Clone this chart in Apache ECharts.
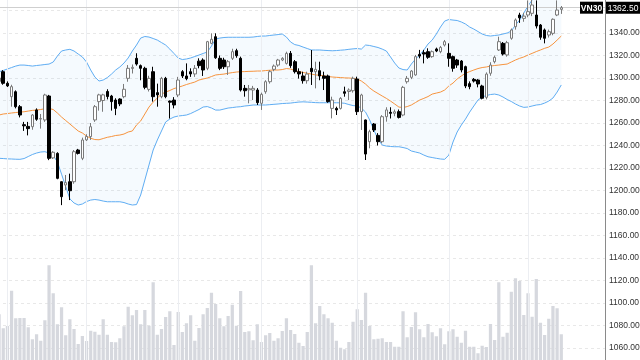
<!DOCTYPE html>
<html><head><meta charset="utf-8">
<script src="https://cdn.jsdelivr.net/npm/echarts@6/dist/echarts.min.js"></script>
<style>html,body{margin:0;padding:0;background:#fff}#c{width:640px;height:360px}</style>
</head><body><div id="c"></div>
<script>
// ---- data ----
const symbolName = 'VN30';
const lastPrice = 1362.50;
// [open, close, low, high]
const ohlc = [
[1297,1300,1293,1302],[1305.6,1295.3,1294,1307],[1295.3,1293,1292,1297],[1283.4,1292.3,1274.5,1294],[1287.8,1274.5,1273,1289],
[1274.5,1267.1,1265,1276],[1258.5,1257.5,1253,1261],[1257,1255,1249,1261],[1256.7,1267.1,1254,1268],[1271.6,1263.3,1262,1273],
[1263.5,1264,1255,1268],[1262.7,1284.9,1261,1286],[1284,1228.6,1227,1285],[1229,1234,1228,1235],[1233,1210.8,1210,1234],
[1207.8,1194.5,1187,1208],[1204.9,1207,1200.4,1213.8],[1207.8,1199.8,1191.5,1215],[1207.8,1234.5,1206,1236],[1236,1233,1232,1237],
[1228.6,1244.9,1227,1247],[1245,1248,1244,1250],[1247.9,1256.7,1245,1260],[1262.7,1274.5,1261,1276],[1279,1285,1271,1286],
[1280,1285,1270,1286],[1288,1283.5,1281,1290],[1284,1279,1271,1285],[1280.4,1273,1267,1282],[1281.3,1277,1275,1282],
[1283.4,1290,1282,1294.7],[1299.7,1308.6,1296.7,1311.5],[1308.5,1309.5,1304,1312],[1317.5,1312.4,1311,1322],[1311,1308.6,1298,1312],
[1308.6,1291.7,1290,1310],[1289.9,1299.7,1288,1302],[1305.6,1283.4,1279,1310],[1287,1285,1274.5,1295],[1283.4,1299.7,1282,1301],
[1299.7,1283.4,1282,1301],[1279.5,1278.5,1264,1280],[1280.4,1276,1273,1283],[1284.9,1298.2,1283,1301],[1305.6,1301.8,1300,1307],
[1301.8,1299.4,1298,1313],[1305.6,1303.6,1301,1308.6],[1303.6,1308.6,1301,1311.5],[1315,1311,1308.6,1317.5],[1316,1307.1,1301.8,1317.5],
[1308.6,1332.3,1307,1333],[1330.8,1334.4,1330,1339.7],[1336.7,1318,1317,1339.7],[1317.5,1308.6,1307,1320],[1316,1310,1308,1318],
[1310,1314.5,1302.7,1316],[1317.5,1323.4,1316,1326],[1324.3,1319.8,1318,1326],[1317.5,1289.3,1288,1319],[1290.8,1288.7,1283.4,1293.8],
[1289.5,1290.5,1277.5,1293.8],[1289.3,1290.8,1280.4,1293],[1289.3,1278.1,1276,1291],[1277.5,1285.5,1271.6,1287],[1287.8,1296.7,1286,1298],
[1296.7,1305.6,1295,1307],[1307.7,1310.6,1306,1312],[1311.5,1316,1310,1317],[1316,1317.5,1315,1318.5],[1313,1321.9,1312,1323.4],
[1321.9,1311,1309,1324],[1314.5,1305.6,1304,1316],[1305.6,1303.6,1299.5,1308.6],[1301.8,1297.6,1295,1305.6],[1297.6,1303.5,1295,1305.6],
[1308.6,1305.6,1293.8,1324.9],[1305.6,1307.7,1290.8,1314.5],[1306.5,1301.8,1298,1314.5],[1301.8,1299.7,1289.3,1305.6],[1301.8,1279,1278,1303],
[1273,1280.4,1264.1,1283.4],[1273,1271.6,1267.1,1274.5],[1273,1281.9,1272,1283],[1287.8,1286.4,1283.4,1292.3],[1288,1289.3,1280.4,1290.8],
[1288.7,1299.7,1287,1301.2],[1299.1,1270.1,1267.1,1301.2],[1270.1,1284.9,1253.8,1286],[1262.7,1232.4,1227.1,1263],[1243.4,1252.3,1237.5,1254],
[1259.1,1253.8,1252,1260],[1249,1243.4,1240,1251],[1243.4,1265.6,1242,1267],[1265.6,1271.6,1261.2,1274],[1269.5,1268.6,1264,1274],
[1268.6,1270,1266,1272],[1270.1,1265,1264,1272],[1267.1,1291.7,1266,1293],[1296.7,1299.7,1295,1301.8],[1300.6,1306.2,1299,1307],
[1302.7,1319,1302,1320.5],[1321,1319.5,1317.5,1325],[1322.5,1321.3,1313,1325],[1323.4,1318.4,1317,1326.4],[1319,1323.4,1318,1324.5],
[1325.8,1324,1323,1327],[1323.4,1327.2,1322,1328.5],[1329.3,1332.3,1328,1333.8],[1321.9,1317.5,1310,1330.8],[1319,1308.6,1305.6,1320],
[1316,1311.5,1309,1317],[1315.1,1307.1,1305,1316],[1310.1,1292.9,1291,1311],[1295,1292.3,1290,1297],[1298.8,1297.3,1296,1300],
[1298.2,1294.7,1291.7,1299],[1292.9,1282,1281,1294],[1282.8,1303.5,1281,1305],[1304.2,1311.5,1302,1314],[1314.5,1318.4,1313,1320],
[1324.9,1332.3,1324,1336.7],[1330.8,1321.3,1320,1332],[1320.5,1331.4,1319,1333],[1335.3,1342.7,1334,1344],[1345.6,1351.6,1343,1353],
[1356,1353.5,1349,1358],[1353,1355,1350,1358],[1356,1359,1354,1369],[1357.5,1364.9,1355,1370],[1356,1346.2,1344,1369],
[1347.1,1336.2,1334,1348],[1342.7,1335.3,1330.8,1344],[1338.2,1341.2,1336,1343],[1339.7,1352.2,1338,1353],[1356,1360.4,1355,1369],
[1361,1362.5,1357,1364]
];
const volume = [
183,127,136,277,167,168,168,131,83,103,
77,159,379,267,143,211,99,163,124,64,
96,76,117,113,101,163,101,72,71,87,
135,213,179,200,143,200,137,311,101,124,
172,195,60,192,112,147,179,77,128,183,
208,269,224,167,135,176,221,137,276,112,
115,79,143,72,99,108,77,87,116,167,
120,104,69,56,112,379,147,216,183,167,
149,77,49,43,72,153,203,160,269,136,
83,85,87,72,72,53,53,195,91,132,
191,123,91,144,111,95,127,63,115,123,
93,69,117,53,53,27,57,52,144,80,
311,93,109,273,327,316,180,267,173,324,
149,100,165,216,207,103
];
const bbUpper = [
1305.6,1306.7,1308.0,1309.3,1310.6,1311.5,1311.5,1311.1,1310.6,1311.1,
1311.5,1312.0,1312.4,1314.2,1319.5,1324.0,1324.9,1325.5,1324.0,1321.3,
1318.7,1314.2,1307.1,1300.9,1297.3,1298.2,1300.4,1303.5,1307.1,1309.8,
1313.3,1317.8,1324.0,1329.3,1335.5,1336.9,1336.4,1335.1,1333.7,1331.5,
1329.3,1325.7,1321.8,1317.8,1316.4,1316.9,1317.8,1319.1,1320.4,1321.8,
1323.1,1328.4,1334.6,1335.5,1336.0,1336.2,1336.2,1336.2,1336.2,1336.2,
1336.2,1336.4,1336.9,1337.3,1337.3,1337.8,1338.2,1338.6,1339.1,1336.4,
1332.0,1329.7,1328.9,1327.5,1326.2,1324.9,1324.9,1324.9,1324.6,1324.4,
1324.2,1324.4,1324.7,1325.0,1325.5,1325.9,1326.2,1325.7,1329.3,1328.9,
1328.0,1327.1,1325.7,1324.0,1318.7,1313.3,1308.9,1307.5,1307.1,1312.4,
1316.9,1320.4,1324.9,1330.2,1333.7,1339.1,1345.3,1350.6,1352.0,1351.5,
1351.1,1349.8,1348.0,1345.3,1343.5,1341.3,1339.1,1337.8,1337.3,1337.8,
1338.2,1339.1,1340.0,1341.7,1347.1,1351.5,1357.7,1364.0,1369.3,1373.7,
1376.4,1378.2,1378.2,1377.3,1374.6,1372.0
];
const bbBasis = [
1267.1,1268.0,1268.4,1268.9,1269.3,1269.7,1270.0,1270.6,1271.2,1271.5,
1272.0,1272.7,1272.9,1272.0,1268.9,1265.3,1262.2,1259.1,1256.0,1252.9,
1251.1,1248.4,1246.4,1245.3,1245.1,1246.2,1247.3,1248.0,1248.9,1249.3,
1250.2,1252.0,1252.9,1258.2,1261.8,1268.0,1274.2,1278.6,1282.2,1285.7,
1287.5,1288.9,1290.6,1291.7,1292.9,1294.2,1295.3,1296.4,1298.2,1299.1,
1300.0,1301.3,1302.7,1303.1,1303.5,1304.2,1304.8,1305.3,1305.6,1305.7,
1305.9,1306.0,1306.2,1306.2,1306.6,1306.9,1307.1,1307.1,1307.5,1308.4,
1308.0,1306.6,1305.7,1304.9,1304.2,1303.5,1302.7,1302.5,1301.9,1301.3,
1300.9,1300.6,1300.4,1300.1,1300.0,1299.7,1299.1,1297.3,1294.6,1291.1,
1288.4,1286.2,1284.0,1281.9,1279.5,1276.9,1274.2,1273.7,1274.6,1276.0,
1278.2,1280.4,1281.9,1283.5,1285.7,1286.6,1287.5,1289.3,1292.9,1295.5,
1299.1,1301.8,1304.2,1305.7,1307.1,1308.4,1309.3,1309.8,1310.6,1311.1,
1311.5,1312.0,1312.4,1314.2,1316.0,1317.5,1318.7,1320.4,1321.9,1323.5,
1324.9,1326.4,1327.5,1330.2,1333.7,1337.3
];
const bbLower = [
1228.6,1228.4,1228.1,1228.0,1227.8,1227.7,1228.4,1230.2,1232.0,1233.3,
1234.2,1234.5,1233.3,1231.1,1225.5,1214.5,1203.5,1192.5,1188.9,1187.1,
1188.0,1190.2,1191.5,1192.0,1191.5,1190.6,1190.0,1190.0,1190.0,1190.0,
1189.3,1188.0,1187.1,1187.5,1196.0,1209.3,1222.7,1236.0,1244.9,1252.9,
1260.9,1263.5,1265.3,1266.2,1266.6,1267.1,1268.4,1270.2,1272.0,1274.2,
1274.6,1273.3,1271.5,1271.5,1272.4,1273.3,1273.7,1274.2,1274.5,1275.1,
1275.5,1276.0,1276.0,1276.0,1276.0,1276.3,1276.6,1276.9,1277.3,1277.5,
1277.7,1278.2,1278.6,1278.8,1278.6,1278.4,1278.1,1278.0,1278.0,1278.0,
1278.0,1278.0,1277.9,1277.5,1276.4,1275.5,1275.1,1273.3,1269.7,1262.6,
1253.7,1245.7,1240.4,1239.5,1239.1,1238.9,1238.9,1238.2,1237.3,1235.1,
1234.2,1233.3,1231.5,1230.0,1229.3,1228.6,1228.0,1227.7,1231.5,1243.1,
1252.0,1258.2,1263.5,1269.7,1275.1,1280.4,1283.1,1284.4,1285.3,1285.7,
1284.9,1283.1,1280.9,1279.1,1276.9,1275.1,1273.9,1274.2,1275.1,1276.0,
1276.4,1277.7,1279.5,1282.2,1287.5,1293.8
];
// indices of first trading day of each month (vertical grid lines)
const monthStartIdx = [2, 21, 43, 63, 86, 108, 127];
// price axis ticks
const priceMin = 1040, priceMax = 1380, priceStep = 20;
const volumeAxisMax = 1440;
const rightPadBars = 10;

// ---- chart ----
const cats = Array.from({length: ohlc.length + rightPadBars}, (_, i) => String(i));
const chart = echarts.init(document.getElementById('c'), null, {renderer: 'canvas'});
const gridBase = {left: -3, right: 35, outerBoundsMode: 'none', containLabel: false};
const hiddenX = (gi) => ({
  type: 'category', gridIndex: gi, data: cats, boundaryGap: true,
  axisLine: {show: false}, axisTick: {show: false}, axisLabel: {show: false}, splitLine: {show: false}
});
chart.setOption({
  animation: false,
  backgroundColor: '#ffffff',
  grid: [
    Object.assign({top: -12, bottom: -10.5}, gridBase),
    Object.assign({top: 0, bottom: 0}, gridBase)
  ],
  xAxis: [hiddenX(0), hiddenX(1)],
  yAxis: [
    {
      type: 'value', gridIndex: 0, position: 'right',
      min: priceMin, max: priceMax, interval: priceStep,
      axisLine: {show: true, lineStyle: {color: '#8a8a8a', width: 1}},
      axisTick: {show: false},
      axisLabel: {show: true, margin: 4, color: '#333', fontSize: 8.5, fontFamily: 'Liberation Sans',
        formatter: v => v.toFixed(2)},
      splitLine: {show: true, lineStyle: {color: '#e8e8e8', type: [3, 3], width: 1}}
    },
    {type: 'value', gridIndex: 1, min: 0, max: volumeAxisMax, show: false}
  ],
  series: [
    {
      name: 'volume', type: 'bar', xAxisIndex: 1, yAxisIndex: 1, data: volume,
      barWidth: '78%', itemStyle: {color: '#d6d8de'}, silent: true, z: 1,
      markLine: {
        silent: true, symbol: 'none', label: {show: false},
        lineStyle: {color: '#eceef2', type: 'solid', width: 1},
        data: monthStartIdx.map(i => ({xAxis: String(i)}))
      }
    },
    {
      name: 'bbBase', type: 'line', data: bbLower, stack: 'bb', symbol: 'none',
      lineStyle: {opacity: 0}, silent: true, z: 2
    },
    {
      name: 'bbFill', type: 'line', data: bbUpper.map((u, i) => u - bbLower[i]), stack: 'bb', symbol: 'none',
      lineStyle: {opacity: 0}, areaStyle: {color: 'rgba(33,150,243,0.06)'}, silent: true, z: 2
    },
    {name: 'upper', type: 'line', data: bbUpper, symbol: 'none', lineStyle: {color: '#5fadf3', width: 1}, z: 3},
    {name: 'lower', type: 'line', data: bbLower, symbol: 'none', lineStyle: {color: '#5fadf3', width: 1}, z: 3},
    {name: 'basis', type: 'line', data: bbBasis, symbol: 'none', lineStyle: {color: '#f7943e', width: 1}, z: 3},
    {
      name: symbolName, type: 'candlestick', data: ohlc, barWidth: 3, z: 5,
      itemStyle: {color: '#ffffff', color0: '#000000', borderColor: '#7a7a7a', borderColor0: '#000000', borderWidth: 1},
      markLine: {
        silent: true, symbol: 'none', label: {show: false},
        lineStyle: {color: '#cfcfcf', type: 'solid', width: 1},
        data: [{yAxis: lastPrice}]
      }
    }
  ]
});
const py = chart.convertToPixel({yAxisIndex: 0}, lastPrice);
chart.setOption({
  graphic: [
    {type: 'rect', z: 100, shape: {x: 580, y: py - 6, width: 23, height: 12}, style: {fill: '#000'}},
    {type: 'text', z: 101, style: {text: symbolName, x: 591.5, y: py + 0.5, align: 'center', verticalAlign: 'middle',
      fill: '#fff', font: 'bold 8.5px Liberation Sans'}},
    {type: 'rect', z: 100, shape: {x: 606, y: py - 6, width: 34, height: 12}, style: {fill: '#000'}},
    {type: 'text', z: 101, style: {text: lastPrice.toFixed(2), x: 623, y: py + 0.5, align: 'center', verticalAlign: 'middle',
      fill: '#fff', font: '8.5px Liberation Sans'}}
  ]
});
</script>
</body></html>
